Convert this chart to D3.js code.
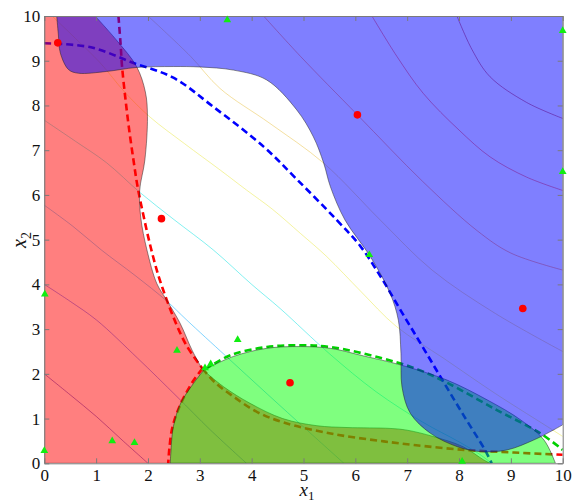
<!DOCTYPE html>
<html><head><meta charset="utf-8">
<script src="https://cdn.jsdelivr.net/npm/d3@7"></script>
<style>body{margin:0;background:#fff}svg{display:block}</style>
</head><body><svg id="chart" width="578" height="504"></svg>
<script>
// ---------- data ----------
const xTicks = [0,1,2,3,4,5,6,7,8,9,10];
const yTicks = [0,1,2,3,4,5,6,7,8,9,10];

// estimated class regions (solid fills)
const redRegionUpper = [[0.98,10],[1.4,9.45],[1.78,8.87],[1.95,8.3],[1.99,7.75],[1.94,6.78],[1.84,6.1],[1.86,5.5],[1.98,4.77],[2.17,4.02],[2.36,3.65],[2.62,3.13],[2.85,2.53],[3.05,2.1]];
const redRegionLower = [[3.05,2.1],[3.46,1.71],[3.97,1.34],[4.6,1.0],[5.26,0.84],[5.84,0.8],[6.67,0.78],[7.0,0.74],[7.5,0.6],[8.08,0.37],[8.47,0.08],[8.6,0]];
const greenRegionLeft = [[2.43,0],[2.44,0.22],[2.49,0.82],[2.63,1.34],[2.88,1.79],[3.08,2.09]];
const greenRegionTop = [[3.08,2.09],[3.65,2.39],[4.29,2.57],[4.94,2.61],[5.52,2.57],[6.16,2.4],[6.87,2.2],[7.77,1.86],[8.54,1.42],[9.19,0.97],[9.64,0.52],[9.86,0]];
const blueRegionEdge = [[0.24,10],[0.27,9.6],[0.31,9.17],[0.47,8.8],[0.66,8.72],[1.2,8.76],[1.78,8.85],[2.49,8.87],[3.0,8.86],[3.65,8.79],[4.29,8.57],[4.87,7.9],[5.19,7.3],[5.39,6.71],[5.52,6.18],[5.8,5.44],[6.29,4.62],[6.67,3.8],[6.83,3.2],[6.88,2.46],[6.9,1.71],[7.06,1.12],[7.45,0.67],[7.97,0.37],[8.42,0.26],[8.93,0.3],[9.44,0.52],[9.83,0.75],[10,0.86]];

// true decision boundaries (dashed)
const redBoundaryUpper = [[1.43,10],[1.47,9.4],[1.5,8.87],[1.56,8.2],[1.63,7.52],[1.72,6.78],[1.8,6.18],[1.92,5.5],[2.05,4.84],[2.2,4.2],[2.36,3.66],[2.55,3.1],[2.75,2.62],[3.05,2.12]];
const redBoundaryDown = [[3.05,2.12],[2.85,1.8],[2.62,1.3],[2.47,0.8],[2.41,0.3],[2.39,0]];
const redBoundaryRight = [[3.05,2.12],[3.3,1.8],[3.65,1.49],[4.1,1.15],[4.62,0.91],[5.6,0.65],[6.55,0.49],[7.13,0.41],[8.1,0.3],[9.06,0.24],[10,0.19]];
const greenBoundary = [[3.1,2.1],[3.6,2.42],[4.29,2.6],[4.94,2.64],[5.52,2.6],[6.48,2.36],[7.2,2.1],[7.77,1.8],[8.73,1.19],[9.57,0.67],[10,0.3]];
const blueBoundary = [[0,9.39],[0.9,9.3],[1.72,8.95],[2.49,8.62],[3.26,7.97],[4.23,7.08],[4.87,6.35],[5.64,5.44],[6.1,4.85],[6.5,4.15],[6.9,3.37],[7.3,2.6],[7.7,1.82],[8.1,1.05],[8.5,0.3],[8.63,0]];

// contour lines of the underlying function (low -> high)
const contourA = [[0,2.0],[0.5,1.53],[1.01,1.04],[1.5,0.52],[2.0,0]];
const contourB = [[0,4.0],[0.5,3.62],[1.01,3.2],[1.8,2.35],[2.56,1.49],[3.2,0.75],[3.9,0]];
const contourC = [[0,5.77],[0.55,5.3],[1.1,4.77],[1.75,4.2],[2.36,3.63],[2.75,3.2],[3.5,2.4],[4.3,1.55],[5.07,0.74],[5.78,0]];
const contourD = [[0,7.67],[0.6,7.2],[1.2,6.72],[1.85,6.05],[2.5,5.45],[3.26,4.77],[4.0,4.0],[4.55,3.46],[5.5,2.45],[6.4,1.6],[7.3,0.92],[8.0,0.48],[8.4,0.2],[8.63,0]];
const contourE = [[0.15,10],[0.6,9.5],[1.08,8.95],[1.55,8.3],[2.04,7.74],[2.7,7.15],[3.4,6.55],[3.9,6.11],[4.4,5.68],[4.94,5.14],[5.45,4.62],[6.1,3.85],[6.79,3.06],[7.7,2.35],[8.7,1.56],[9.8,0.75],[10,0.6]];
const contourF = [[2.0,10],[2.82,9.1],[3.39,8.38],[4.35,7.6],[5.39,6.71],[6.48,5.44],[7.48,4.32],[8.7,3.35],[10,2.5]];
const contourG = [[4.23,10],[4.94,9.1],[6.04,7.79],[7.3,6.3],[8.35,5.2],[9.0,4.7],[10,4.32]];
const contourH = [[6.32,10],[6.8,9.1],[7.31,8.27],[8.0,7.45],[8.6,6.85],[9.3,6.4],[10,6.1]];
const contourI = [[7.96,10],[8.25,9.25],[8.6,8.64],[9.3,8.07],[10,7.71]];
const contourLines = [contourA,contourB,contourC,contourD,contourE,contourF,contourG,contourH,contourI];
const contourColors = ["#0000b4","#0030ff","#00a8ff","#00e0e0","#e8e640","#e8c040","#ff6000","#ff2000","#b00000"];

// samples
const redPoints = [[0.26,9.4],[2.26,5.47],[6.04,7.79],[9.23,3.46],[4.74,1.8]];
const greenPoints = [[3.53,9.91],[10,9.67],[10,6.52],[6.27,4.66],[0.01,3.78],[0,0.28],[1.31,0.5],[1.74,0.46],[2.56,2.52],[3.73,2.76],[3.1,2.13],[3.21,2.22],[8.06,0.04]];

// ---------- drawing ----------
const svg = d3.select('#chart');
const x = d3.scaleLinear().domain([0,10]).range([44.3,562.7]);
const y = d3.scaleLinear().domain([0,10]).range([463.3,16]);

svg.append('defs').append('clipPath').attr('id','plotclip')
  .append('rect').attr('x',x(0)).attr('y',y(10)).attr('width',x(10)-x(0)).attr('height',y(0)-y(10));

const line = d3.line().x(d=>x(d[0])).y(d=>y(d[1])).curve(d3.curveCatmullRom.alpha(0.5));
const cont = s => line(s).replace(/^M/,'L');

const plot = svg.append('g').attr('clip-path','url(#plotclip)');

// contour lines
plot.selectAll('path.contour').data(contourLines).join('path')
  .attr('class','contour').attr('d',line).attr('fill','none')
  .attr('stroke',(d,i)=>contourColors[i]).attr('stroke-width',0.9).attr('stroke-opacity',0.55);

// dashed boundaries
const dashed = [
  {pts:redBoundaryUpper,c:'#ff0000'},{pts:redBoundaryDown,c:'#ff0000'},{pts:redBoundaryRight,c:'#ff0000'},
  {pts:greenBoundary,c:'#00d000'},{pts:blueBoundary,c:'#0000ff'}];
plot.selectAll('path.dash').data(dashed).join('path')
  .attr('class','dash').attr('d',d=>line(d.pts)).attr('fill','none')
  .attr('stroke',d=>d.c).attr('stroke-width',2.6).attr('stroke-dasharray','7,4');

// filled regions
const redD = `M${x(0)},${y(0)}L${x(0)},${y(10)}` + cont(redRegionUpper) + cont(redRegionLower) + 'Z';
const greenD = line(greenRegionLeft) + cont(greenRegionTop) + 'Z';
const blueD = line(blueRegionEdge) + `L${x(10)},${y(10)}Z`;
const regions = [{d:redD,c:'#ff0000'},{d:greenD,c:'#00ff00'},{d:blueD,c:'#0000ff'}];
plot.selectAll('path.region').data(regions).join('path')
  .attr('class','region').attr('d',d=>d.d)
  .attr('fill',d=>d.c).attr('fill-opacity',0.5)
  .attr('stroke','#202020').attr('stroke-opacity',0.7).attr('stroke-width',0.7);

// axes
const axisColor = '#7a7a7a';
const serif = '"Liberation Serif", "Times New Roman", serif';
function styleAxis(g, labels){
  g.select('.domain').attr('stroke',axisColor).attr('stroke-width',1);
  g.selectAll('.tick line').attr('stroke',axisColor);
  g.selectAll('.tick text').attr('fill','#111').attr('font-family',serif).attr('font-size',17);
  if(!labels) g.selectAll('.tick text').remove();
}
const gB = svg.append('g').attr('transform',`translate(0,${y(0)})`)
  .call(d3.axisBottom(x).tickValues(xTicks).tickSizeInner(-5).tickSizeOuter(0).tickPadding(6).tickFormat(d3.format('d')));
styleAxis(gB,true);
const gL = svg.append('g').attr('transform',`translate(${x(0)},0)`)
  .call(d3.axisLeft(y).tickValues(yTicks).tickSizeInner(-5).tickSizeOuter(0).tickPadding(4).tickFormat(d3.format('d')));
styleAxis(gL,true);
const gT = svg.append('g').attr('transform',`translate(0,${y(10)})`)
  .call(d3.axisTop(x).tickValues(xTicks).tickSizeInner(-5).tickSizeOuter(0));
styleAxis(gT,false);
const gR = svg.append('g').attr('transform',`translate(${x(10)},0)`)
  .call(d3.axisRight(y).tickValues(yTicks).tickSizeInner(-5).tickSizeOuter(0));
styleAxis(gR,false);

// markers
svg.selectAll('path.gtri').data(greenPoints).join('path').attr('class','gtri')
  .attr('d',d3.symbol(d3.symbolTriangle).size(26)())
  .attr('transform',d=>`translate(${x(d[0])},${y(d[1])})`)
  .attr('fill','#11ee11');
svg.selectAll('circle.rdot').data(redPoints).join('circle').attr('class','rdot')
  .attr('cx',d=>x(d[0])).attr('cy',d=>y(d[1])).attr('r',3.8).attr('fill','#ff0000');

// axis labels
const xl = svg.append('text').attr('x',307).attr('y',496).attr('text-anchor','middle')
  .attr('font-family',serif).attr('font-size',19).attr('fill','#111');
xl.append('tspan').attr('font-style','italic').text('x');
xl.append('tspan').attr('font-size',13).attr('dy',3.5).text('1');
const yl = svg.append('text').attr('transform','translate(26,240) rotate(-90)').attr('text-anchor','middle')
  .attr('font-family',serif).attr('font-size',20).attr('fill','#111');
yl.append('tspan').attr('font-style','italic').text('x');
yl.append('tspan').attr('font-size',14).attr('dy',5).text('2');
</script></body></html>
